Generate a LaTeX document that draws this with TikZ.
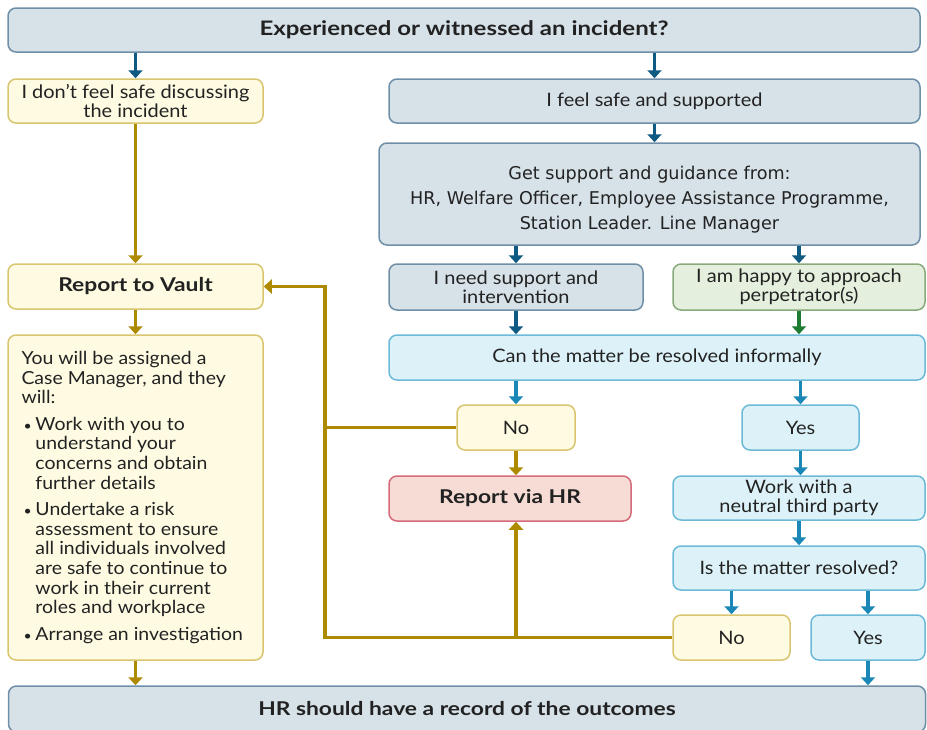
\documentclass[tikz,border=0pt]{standalone}
\usepackage{fontspec}
\setmainfont{Lato}[FakeStretch=1.08, BoldFeatures={FakeStretch=1.2}]
\newfontfamily\verdanafont{DejaVu Sans}
\usetikzlibrary{arrows.meta, positioning}

\definecolor{greyfill}{HTML}{D6E1E8}
\definecolor{greyline}{HTML}{6F8FA8}
\definecolor{darkarrow}{HTML}{0F5A82}
\definecolor{yelfill}{HTML}{FEFBE2}
\definecolor{yelline}{HTML}{D8C56E}
\definecolor{goldarrow}{HTML}{AD8A00}
\definecolor{grnfill}{HTML}{E4F0DD}
\definecolor{grnline}{HTML}{89A97B}
\definecolor{grnarrow}{HTML}{1D7B32}
\definecolor{cyanfill}{HTML}{DDF2F8}
\definecolor{cyanline}{HTML}{6CBAD8}
\definecolor{cyanarrow}{HTML}{1B87B6}
\definecolor{pinkfill}{HTML}{F6DCD5}
\definecolor{pinkline}{HTML}{D46A7A}
\definecolor{textcol}{HTML}{222222}

\tikzset{
  box/.style={draw, rounded corners=8pt, line width=1.5pt, inner sep=0pt,
    align=center, text=textcol, font=\fontsize{18.5}{19}\selectfont},
  greybox/.style={box, fill=greyfill, draw=greyline},
  yelbox/.style={box, fill=yelfill, draw=yelline},
  grnbox/.style={box, fill=grnfill, draw=grnline},
  cyanbox/.style={box, fill=cyanfill, draw=cyanline},
  pinkbox/.style={box, fill=pinkfill, draw=pinkline},
  bigtext/.style={font=\fontsize{20}{22}\selectfont\bfseries},
  boldtext/.style={font=\fontsize{19}{21}\selectfont\bfseries},
  arr/.style={line width=3.5pt, -{Triangle[width=14pt,length=8pt]}},
  darkarr/.style={arr, draw=darkarrow},
  goldarr/.style={arr, draw=goldarrow},
  goldline/.style={line width=3.5pt, draw=goldarrow},
  grnarr/.style={arr, draw=grnarrow},
  cyanarr/.style={arr, draw=cyanarrow},
}
\newcommand{\bulletline}{\noindent\hspace*{-14pt}\makebox[14pt][l]{\hspace{2pt}{\fontsize{13}{13}\selectfont\textbullet}}}

\begin{document}
\begin{tikzpicture}[x=1pt, y=-1pt]
\useasboundingbox (0,0) rectangle (927,729);

% top row
\node[greybox, bigtext, minimum width=912pt, minimum height=44pt] (top) at (464,30) {Experienced or witnessed an incident?};
\node[yelbox, minimum width=255pt, minimum height=44pt] (unsafe) at (135.5,101) {I don't feel safe discussing\\the incident};
\node[greybox, minimum width=531pt, minimum height=44pt] (safe) at (654.5,101) {I feel safe and supported};
\node[greybox, minimum width=541pt, minimum height=102pt, font=\verdanafont\fontsize{17.6}{25}\selectfont] (support) at (649.5,194)
  {\rule{0pt}{25pt}Get support and guidance from:\\HR, Welfare Officer, Employee Assistance Programme,\\Station Leader. Line Manager};

% left column
\node[yelbox, boldtext, minimum width=255pt, minimum height=45pt] (vault) at (135.5,286.5) {Report to Vault};
\node[yelbox, minimum width=255pt, minimum height=325pt, align=left] (cm) at (135.5,497.5) {%
  \begin{minipage}{228pt}\fontsize{18}{19.6}\selectfont\raggedright
  You will be assigned a\\Case Manager, and they\\will:\par\vspace{7pt}
  {\leftskip=14pt \bulletline Work with you to\\understand your\\concerns and obtain\\further details\par}\vspace{7pt}
  {\leftskip=14pt \bulletline Undertake a risk\\assessment to ensure\\all individuals involved\\are safe to continue to\\work in their current\\roles and workplace\par}\vspace{7pt}
  {\leftskip=14pt \bulletline Arrange an investigation\par}
  \end{minipage}};

% right part
\node[greybox, minimum width=254pt, minimum height=46pt] (need) at (516,287) {I need support and\\intervention};
\node[grnbox, minimum width=252pt, minimum height=46pt] (happy) at (799,287) {I am happy to approach\\perpetrator(s)};
\node[cyanbox, minimum width=536pt, minimum height=45pt] (informal) at (657,357.5) {Can the matter be resolved informally};
\node[yelbox, minimum width=118pt, minimum height=45pt] (no1) at (516,427.5) {No};
\node[cyanbox, minimum width=117pt, minimum height=45pt] (yes1) at (800.5,427.5) {Yes};
\node[pinkbox, boldtext, minimum width=242pt, minimum height=45pt] (hr) at (510,498.5) {Report via HR};
\node[cyanbox, minimum width=252pt, minimum height=44pt] (third) at (799,498) {Work with a\\neutral third party};
\node[cyanbox, minimum width=252pt, minimum height=44pt] (resolved) at (799,568) {Is the matter resolved?};
\node[yelbox, minimum width=117pt, minimum height=45pt] (no2) at (731.5,637.5) {No};
\node[cyanbox, minimum width=114pt, minimum height=45pt] (yes2) at (868,637.5) {Yes};
\node[greybox, boldtext, minimum width=917pt, minimum height=46pt] (bottom) at (467,709) {HR should have a record of the outcomes};

% connectors
\draw[darkarr] (unsafe.north |- top.south) -- (unsafe.north);
\draw[darkarr] (safe.north |- top.south) -- (safe.north);
\draw[darkarr] (safe.south) -- (safe.south |- support.north);
\draw[goldarr] (unsafe.south) -- (vault.north);
\draw[darkarr] (need.north |- support.south) -- (need.north);
\draw[darkarr] (happy.north |- support.south) -- (happy.north);
\draw[darkarr] (need.south) -- (need.south |- informal.north);
\draw[grnarr] (happy.south) -- (happy.south |- informal.north);
\draw[cyanarr] (no1.north |- informal.south) -- (no1.north);
\draw[cyanarr] (yes1.north |- informal.south) -- (yes1.north);
\draw[goldarr] (no1.south) -- (no1.south |- hr.north);
\draw[cyanarr] (yes1.south) -- (yes1.south |- third.north);
\draw[cyanarr] (third.south) -- (resolved.north);
\draw[cyanarr] (no2.north |- resolved.south) -- (no2.north);
\draw[cyanarr] (yes2.north |- resolved.south) -- (yes2.north);
\draw[cyanarr] (yes2.south) -- (yes2.south |- bottom.north);
\draw[goldarr] (vault.south) -- (cm.north);
\draw[goldarr] (cm.south) -- (cm.south |- bottom.north);

% loop back to Vault and HR
\coordinate (bend) at (325,286.5);
\draw[goldarr] (no2.west) -| (bend) -- (vault.east);
\draw[goldline] (no1.west) -- (no1.west -| bend);
\draw[goldarr] (no1.south |- no2.west) -- (no1.south |- hr.south);
\end{tikzpicture}
\end{document}
